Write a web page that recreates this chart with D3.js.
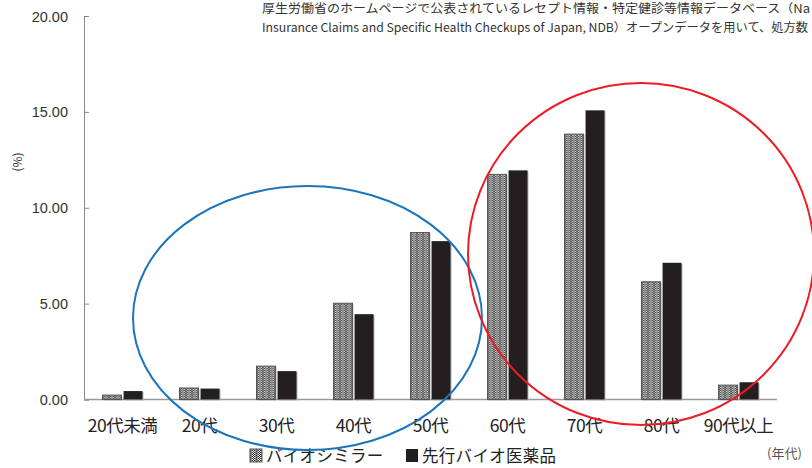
<!DOCTYPE html>
<html lang="ja">
<head>
<meta charset="UTF-8">
<title>年代別処方割合</title>
<script src="https://d3js.org/d3.v7.min.js"></script>
<style>
    body { margin: 0; background: #fff; }
    svg { display: block; font-family: "Noto Sans CJK JP", "Noto Sans", sans-serif; }
    .tick text { fill: #333; }
</style>
</head>
<body>
<svg width="812" height="468"></svg>
<script>
// age groups and shares (%)
const ageGroups = ["20代未満", "20代", "30代", "40代", "50代", "60代", "70代", "80代", "90代以上"];
const biosimilar = [0.23, 0.6, 1.74, 5.02, 8.71, 11.74, 13.84, 6.14, 0.75];
const originator = [0.44, 0.57, 1.48, 4.45, 8.26, 11.95, 15.08, 7.13, 0.9];
const seriesNames = ["バイオシミラー", "先行バイオ医薬品"];
const yTicks = [0, 5, 10, 15, 20];
const noteLines = [
    "厚生労働省のホームページで公表されているレセプト情報・特定健診等情報データベース（Na",
    "Insurance Claims and Specific Health Checkups of Japan, NDB）オープンデータを用いて、処方数"
];

const svg = d3.select("svg");
const margin = {left: 84, top: 16, bottom: 68.5};
const plotW = 693;
const plotH = 468 - margin.top - margin.bottom;

// hatched fill for the biosimilar bars
const defs = svg.append("defs");
const pat = defs.append("pattern")
    .attr("id", "hatch")
    .attr("patternUnits", "userSpaceOnUse")
    .attr("width", 6).attr("height", 2);
pat.append("rect").attr("width", 6).attr("height", 2).attr("fill", "#fff");
pat.append("rect").attr("x", 0).attr("y", 0).attr("width", 1).attr("height", 1).attr("fill", "#222");
pat.append("rect").attr("x", 1).attr("y", 1).attr("width", 1).attr("height", 1).attr("fill", "#222");
pat.append("rect").attr("x", 2).attr("y", 0).attr("width", 1).attr("height", 1).attr("fill", "#222");
pat.append("rect").attr("x", 3).attr("y", 0).attr("width", 3).attr("height", 2).attr("fill", "#8a8a8a");
pat.append("rect").attr("x", 4).attr("y", 1).attr("width", 1).attr("height", 1).attr("fill", "#333");

const x = d3.scaleBand()
    .domain(ageGroups)
    .range([margin.left, margin.left + plotW]);

const y = d3.scaleLinear()
    .domain([0, 20])
    .range([margin.top + plotH, margin.top]);

const inner = d3.scaleBand()
    .domain([0, 1])
    .range([-20, 20])
    .paddingInner(0.1);

// y axis
const yAxis = svg.append("g")
    .attr("transform", `translate(${margin.left},0)`)
    .call(d3.axisRight(y).tickValues(yTicks).tickSize(5).tickFormat(d3.format(".2f")));
yAxis.select(".domain").attr("stroke", "#888");
yAxis.selectAll(".tick line").attr("stroke", "#888");
yAxis.selectAll(".tick text")
    .attr("x", -16)
    .attr("text-anchor", "end")
    .attr("font-size", 14.5)
    .attr("dy", "0.35em");

// baseline
svg.append("line")
    .attr("x1", margin.left).attr("x2", margin.left + plotW)
    .attr("y1", y(0)).attr("y2", y(0))
    .attr("stroke", "#999").attr("stroke-width", 1.5);

// bars
const groups = svg.append("g")
    .selectAll("g")
    .data(ageGroups)
    .join("g")
    .attr("transform", d => `translate(${x(d) + x.bandwidth() / 2},0)`);

groups.each(function(d, i) {
    const g = d3.select(this);
    [biosimilar[i], originator[i]].forEach((v, s) => {
        g.append("rect")
            .attr("x", inner(s) + 1)
            .attr("y", y(v) + 1)
            .attr("width", inner.bandwidth())
            .attr("height", y(0) - y(v))
            .attr("fill", "#b5b5b5");
        g.append("rect")
            .attr("x", inner(s))
            .attr("y", y(v))
            .attr("width", inner.bandwidth())
            .attr("height", y(0) - y(v))
            .attr("fill", s === 0 ? "url(#hatch)" : "#231f20")
            .attr("stroke", s === 0 ? "#555" : "none")
            .attr("stroke-width", 1);
    });
});

// x labels
svg.append("g")
    .selectAll("text")
    .data(ageGroups)
    .join("text")
    .attr("x", d => x(d) + x.bandwidth() / 2)
    .attr("y", 432)
    .attr("text-anchor", "middle")
    .attr("font-size", 17.5)
    .attr("fill", "#222")
    .attr("letter-spacing", -0.5)
    .text(d => d);

// y axis title
svg.append("text")
    .attr("transform", "translate(22,162) rotate(-90)")
    .attr("text-anchor", "middle")
    .attr("font-size", 12)
    .attr("fill", "#333")
    .text("(%)");

// unit
svg.append("text")
    .attr("x", 767).attr("y", 458)
    .attr("font-size", 13)
    .attr("fill", "#555")
    .text("(年代)");

// legend
const legend = svg.append("g").attr("font-size", 16.5).attr("fill", "#222");
const legX = [250, 406];
seriesNames.forEach((name, s) => {
    legend.append("rect")
        .attr("x", legX[s]).attr("y", 449)
        .attr("width", 12).attr("height", 13)
        .attr("fill", s === 0 ? "url(#hatch)" : "#231f20")
        .attr("stroke", s === 0 ? "#555" : "none");
    legend.append("text")
        .attr("x", legX[s] + 16).attr("y", 462)
        .attr("letter-spacing", 0.3)
        .text(name);
});

// note at the top
const note = svg.append("g").attr("font-size", 12.2).attr("fill", "#333");
noteLines.forEach((line, i) => {
    note.append("text")
        .attr("x", 262).attr("y", 13 + i * 19)
        .attr("textLength", i === 0 ? 548 : 546)
        .attr("lengthAdjust", "spacingAndGlyphs")
        .text(line);
});

// highlight rings
svg.append("ellipse")
    .attr("cx", 307.5).attr("cy", 318).attr("rx", 174.5).attr("ry", 132)
    .attr("fill", "none").attr("stroke", "#1b75bc").attr("stroke-width", 2);
svg.append("ellipse")
    .attr("cx", 641).attr("cy", 254).attr("rx", 173).attr("ry", 171)
    .attr("fill", "none").attr("stroke", "#ed1c24").attr("stroke-width", 2);
</script>
</body>
</html>
